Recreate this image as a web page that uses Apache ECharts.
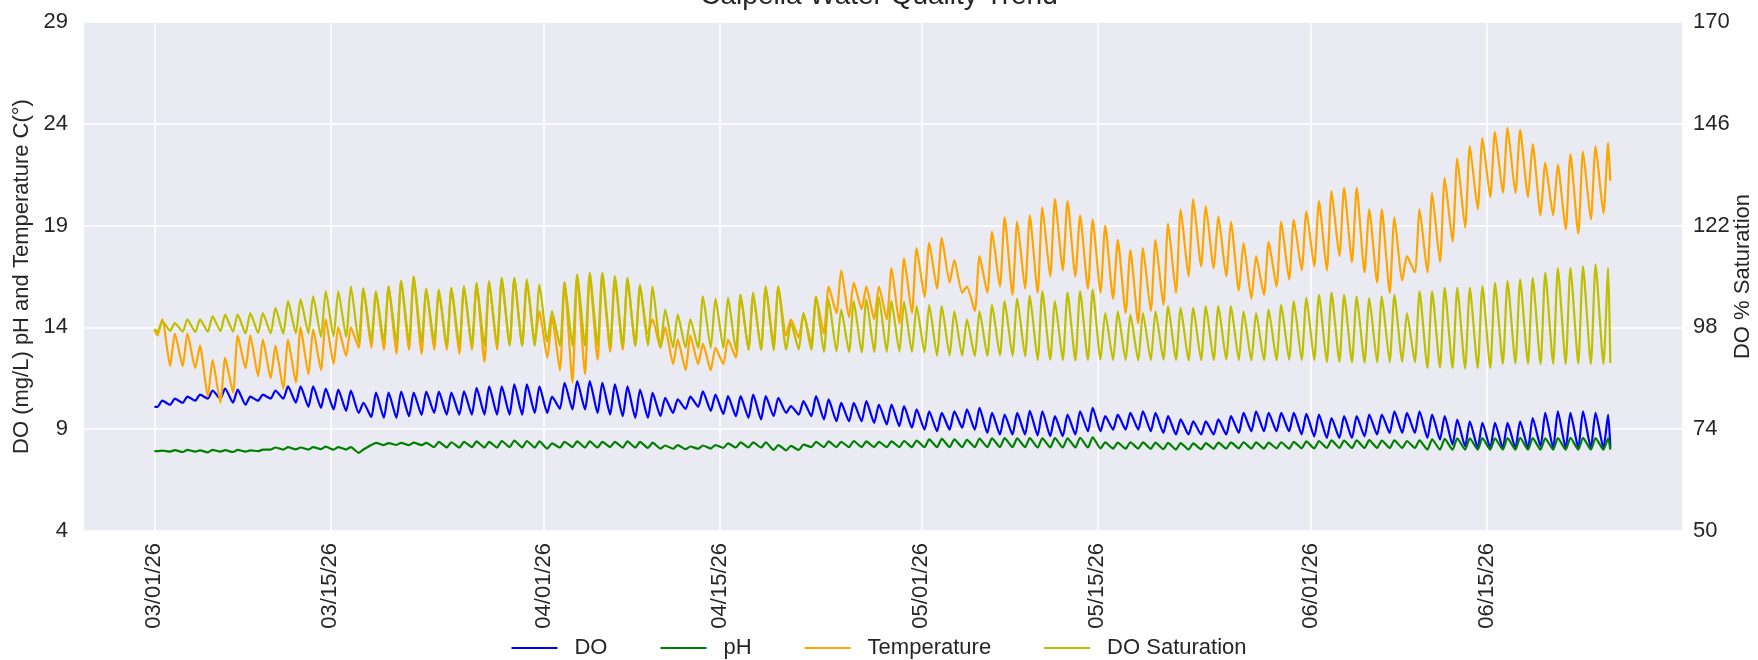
<!DOCTYPE html>
<html>
<head>
<meta charset="utf-8">
<script src="https://cdn.jsdelivr.net/npm/echarts@6/dist/echarts.min.js"></script>
<style>
html, body { margin: 0; padding: 0; background: #fff; }
#charts { width: 1758px; height: 660px; }
</style>
</head>
<body>
<div id="charts"></div>
<script>
var chartDom = document.getElementById('charts');
var myChart = echarts.init(chartDom);
var option;

// one reading pair per day starting 03/01/26: daily low (early morning) and daily high (afternoon)
var startDay = Date.UTC(2026, 2, 1);
var DAY = 86400000;
var tickDates = ['2026-03-01', '2026-03-15', '2026-04-01', '2026-04-15', '2026-05-01', '2026-05-15', '2026-06-01', '2026-06-15'];

var doMax = [10.4, 10.5, 10.6, 10.7, 10.9, 11.0, 10.95, 10.6, 10.7, 10.9,
  11.1, 11.1, 11.1, 11.0, 10.95, 10.9, 10.3, 10.8, 10.8, 10.85,
  10.8, 10.85, 10.85, 10.8, 10.86, 11.03, 11.1, 11.1, 11.2, 11.2,
  11.1, 10.6, 11.28, 11.36, 11.36, 11.28, 11.2, 11.1, 10.95, 10.78,
  10.54, 10.46, 10.6, 10.86, 10.7, 10.62, 10.62, 10.7, 10.62, 10.54,
  10.13, 10.38, 10.62, 10.46, 10.29, 10.29, 10.38, 10.21, 10.21, 10.13,
  9.97, 9.88, 9.8, 9.88, 9.97, 10.05, 9.8, 9.72, 9.8, 9.9,
  9.88, 9.64, 9.72, 9.88, 10.05, 9.64, 9.72, 9.8, 9.88, 9.8,
  9.64, 9.48, 9.39, 9.39, 9.48, 9.64, 9.8, 9.88, 9.8, 9.8,
  9.8, 9.76, 9.72, 9.55, 9.64, 9.64, 9.72, 9.72, 9.88, 9.8,
  9.88, 9.72, 9.64, 9.47, 9.39, 9.31, 9.31, 9.31, 9.39, 9.55,
  9.8, 9.88, 9.8, 9.88, 9.8, 9.72];
var doMin = [10.1, 10.2, 10.3, 10.4, 10.5, 10.5, 10.3, 10.2, 10.4, 10.5,
  10.5, 10.3, 10.1, 10.05, 9.97, 9.9, 9.8, 9.6, 9.56, 9.56,
  9.64, 9.7, 9.8, 9.72, 9.72, 9.72, 9.72, 9.72, 9.72, 9.72,
  9.8, 9.8, 10.0, 9.97, 9.97, 9.8, 9.72, 9.64, 9.56, 9.56,
  9.64, 9.8, 10.0, 10.1, 9.9, 9.75, 9.64, 9.56, 9.48, 9.64,
  9.8, 9.72, 9.64, 9.48, 9.39, 9.39, 9.39, 9.31, 9.23, 9.15,
  9.07, 8.98, 8.9, 8.98, 9.07, 8.98, 8.82, 8.74, 8.74, 8.74,
  8.7, 8.66, 8.66, 8.74, 8.9, 8.9, 8.98, 8.98, 8.98, 8.9,
  8.82, 8.74, 8.74, 8.74, 8.74, 8.74, 8.82, 8.9, 8.9, 8.9,
  8.9, 8.75, 8.65, 8.57, 8.57, 8.57, 8.65, 8.74, 8.82, 8.82,
  8.82, 8.57, 8.49, 8.24, 8.16, 8.08, 8.08, 8.08, 8.08, 8.08,
  8.16, 8.08, 8.08, 8.08, 8.08, 8.08];

var phMax = [7.95, 7.97, 7.98, 7.96, 7.98, 7.97, 7.98, 7.96, 8.0, 8.1,
  8.12, 8.1, 8.12, 8.14, 8.12, 8.12, 8.0, 8.33, 8.32, 8.33,
  8.34, 8.33, 8.38, 8.36, 8.38, 8.4, 8.38, 8.42, 8.44, 8.42,
  8.4, 8.3, 8.38, 8.4, 8.4, 8.38, 8.38, 8.4, 8.38, 8.34,
  8.2, 8.22, 8.15, 8.2, 8.22, 8.3, 8.35, 8.35, 8.36, 8.22,
  8.18, 8.24, 8.38, 8.4, 8.38, 8.42, 8.4, 8.38, 8.4, 8.42,
  8.44, 8.5, 8.52, 8.5, 8.48, 8.54, 8.55, 8.56, 8.55, 8.56,
  8.55, 8.56, 8.55, 8.58, 8.6, 8.35, 8.34, 8.36, 8.35, 8.34,
  8.33, 8.32, 8.3, 8.32, 8.34, 8.35, 8.36, 8.35, 8.34, 8.36,
  8.38, 8.4, 8.42, 8.45, 8.44, 8.45, 8.46, 8.44, 8.45, 8.42,
  8.45, 8.5, 8.52, 8.55, 8.55, 8.56, 8.55, 8.56, 8.58, 8.56,
  8.55, 8.56, 8.58, 8.57, 8.56, 8.55];
var phMin = [7.92, 7.9, 7.88, 7.9, 7.86, 7.9, 7.88, 7.9, 7.92, 8.0,
  8.0, 8.01, 8.0, 8.02, 8.0, 8.0, 7.84, 8.22, 8.22, 8.23,
  8.22, 8.22, 8.12, 8.1, 8.1, 8.12, 8.1, 8.1, 8.12, 8.1,
  8.1, 8.05, 8.1, 8.12, 8.1, 8.1, 8.12, 8.1, 8.1, 8.08,
  8.05, 8.04, 8.02, 8.04, 8.05, 8.08, 8.1, 8.1, 8.1, 7.98,
  7.96, 7.98, 8.12, 8.12, 8.12, 8.12, 8.12, 8.12, 8.12, 8.12,
  8.12, 8.12, 8.12, 8.12, 8.12, 8.12, 8.12, 8.12, 8.12, 8.12,
  8.1, 8.1, 8.1, 8.1, 8.1, 8.06, 8.05, 8.04, 8.05, 8.04,
  8.02, 8.0, 8.0, 8.02, 8.04, 8.05, 8.06, 8.05, 8.05, 8.06,
  8.05, 8.06, 8.06, 8.08, 8.08, 8.08, 8.08, 8.08, 8.08, 8.08,
  8.08, 8.0, 8.0, 8.0, 8.0, 8.0, 8.0, 8.0, 8.0, 8.0,
  8.0, 8.0, 8.0, 8.0, 8.0, 8.0];

var tempMax = [14.4, 13.7, 13.7, 13.1, 12.4, 12.5, 13.6, 13.6, 13.4, 13.1,
  13.4, 14.0, 13.9, 14.4, 14.0, 14.0, 15.9, 15.7, 16.0, 16.3,
  16.5, 15.9, 15.8, 15.9, 16.0, 16.1, 16.2, 16.4, 16.4, 16.3,
  14.8, 14.5, 16.2, 16.5, 16.6, 16.6, 16.4, 16.3, 16.0, 14.4,
  14.0, 13.4, 13.6, 13.2, 13.0, 13.4, 15.6, 15.6, 16.0, 16.0,
  14.4, 14.7, 15.5, 16.0, 16.8, 16.2, 16.0, 16.0, 16.9, 17.4,
  17.9, 18.15, 18.4, 17.3, 16.0, 17.5, 18.7, 19.4, 19.2, 19.5,
  19.9, 20.3, 20.2, 19.5, 19.3, 19.0, 18.3, 17.8, 17.9, 18.3,
  19.1, 19.8, 20.3, 19.95, 19.46, 19.2, 18.15, 17.5, 18.2, 19.2,
  19.3, 19.7, 20.2, 20.7, 20.85, 20.85, 19.8, 19.8, 19.4, 17.5,
  19.8, 20.6, 21.35, 22.3, 22.9, 23.3, 23.6, 23.8, 23.7, 23.0,
  22.1, 22.0, 22.5, 22.65, 22.9, 23.06];
var tempMin = [13.6, 12.1, 12.1, 12.0, 10.6, 10.3, 10.8, 12.0, 11.6, 11.5,
  11.0, 11.3, 11.7, 11.9, 12.2, 12.6, 13.0, 13.0, 12.9, 12.7,
  12.9, 12.7, 12.9, 12.9, 12.7, 12.9, 12.3, 12.9, 13.1, 13.1,
  13.3, 12.5, 11.9, 11.3, 11.7, 12.4, 12.8, 12.9, 13.1, 13.7,
  13.0, 12.2, 11.9, 12.2, 11.9, 12.2, 12.5, 12.9, 12.9, 13.2,
  13.6, 13.5, 13.2, 13.7, 14.7, 14.5, 14.9, 14.4, 14.4, 14.2,
  14.7, 15.5, 15.9, 16.2, 15.7, 14.8, 15.7, 16.0, 15.6, 15.9,
  15.7, 16.5, 16.8, 16.5, 15.9, 15.7, 15.4, 14.7, 14.2, 14.8,
  15.1, 15.7, 16.5, 17.0, 16.9, 16.5, 15.8, 15.4, 15.6, 16.0,
  16.35, 16.8, 17.0, 16.8, 17.5, 17.2, 16.7, 16.2, 15.7, 16.3,
  16.7, 16.7, 17.2, 18.2, 18.9, 19.8, 20.4, 20.6, 20.6, 20.4,
  19.5, 19.5, 18.8, 18.6, 19.3, 19.6];

var satMax = [99.4, 99.0, 99.9, 99.9, 100.6, 101.0, 101.0, 101.4, 101.4, 102.6,
  104.2, 104.6, 105.3, 106.5, 106.5, 107.7, 107.2, 106.5, 107.7, 108.9,
  110.0, 106.9, 106.9, 107.3, 107.7, 108.5, 108.9, 109.7, 109.7, 109.3,
  108.1, 101.8, 108.7, 110.5, 110.9, 110.9, 110.1, 109.7, 108.1, 107.6,
  102.2, 101.0, 99.9, 105.3, 104.8, 105.0, 105.7, 106.2, 107.6, 107.6,
  99.0, 101.4, 105.2, 104.6, 102.2, 104.2, 104.6, 105.2, 104.2, 104.0,
  103.0, 103.3, 103.0, 101.8, 99.9, 101.8, 103.3, 104.2, 104.8, 105.5,
  106.5, 104.2, 106.2, 106.5, 106.9, 101.4, 101.8, 101.0, 101.4, 101.8,
  103.0, 102.6, 102.6, 103.0, 103.0, 103.0, 101.8, 101.4, 102.2, 103.3,
  104.2, 105.0, 105.7, 106.2, 105.7, 105.3, 104.9, 105.3, 105.7, 101.4,
  106.5, 106.5, 107.3, 107.3, 107.3, 107.7, 108.5, 108.9, 109.3, 109.7,
  110.9, 112.0, 112.0, 112.4, 112.8, 112.0];
var satMin = [97.0, 97.2, 97.0, 96.9, 97.0, 97.1, 97.0, 96.6, 96.7, 96.6,
  96.5, 96.6, 96.6, 95.8, 95.9, 95.8, 94.6, 94.7, 94.6, 94.5,
  94.6, 94.6, 94.7, 93.7, 93.8, 93.7, 93.6, 93.7, 93.8, 93.7,
  93.7, 94.6, 93.7, 93.6, 93.7, 93.8, 93.7, 93.6, 93.7, 93.7,
  93.2, 93.3, 93.2, 93.1, 93.2, 93.2, 92.7, 92.8, 92.7, 92.6,
  92.7, 92.8, 92.7, 92.2, 92.3, 92.2, 92.1, 92.2, 92.2, 92.3,
  92.2, 92.1, 91.3, 91.4, 91.3, 91.2, 91.3, 91.4, 91.3, 91.2,
  90.3, 90.4, 90.3, 90.2, 90.3, 90.4, 90.3, 90.3, 90.2, 90.3,
  90.4, 90.3, 90.2, 90.3, 90.3, 90.4, 90.3, 90.2, 90.3, 90.3,
  90.4, 90.3, 90.3, 89.8, 89.9, 89.8, 89.7, 89.8, 89.8, 89.9,
  89.8, 88.4, 88.5, 88.4, 88.3, 88.4, 88.4, 89.4, 89.5, 89.4,
  89.3, 89.4, 89.4, 89.5, 89.4, 89.4];

// DO, pH, Temperature, DO Saturation
var firstReading = [10.1, 7.92, 13.9, 97.6];
var lastReading = [8.1, 8.0, 21.2, 89.6];

function buildLine(mins, maxs, first, last) {
  var pts = [[startDay, first]];
  for (var i = 0; i < mins.length; i++) {
    pts.push([startDay + i * DAY + 0.25 * DAY, mins[i]]);
    pts.push([startDay + i * DAY + 0.625 * DAY, maxs[i]]);
  }
  pts.push([startDay + (mins.length - 1) * DAY + 0.8 * DAY, last]);
  return pts;
}

function pad(n) { return n < 10 ? '0' + n : '' + n; }
function fmtDate(v) {
  var d = new Date(v);
  return pad(d.getUTCMonth() + 1) + '/' + pad(d.getUTCDate()) + '/' + String(d.getUTCFullYear()).slice(2);
}

var tickValues = tickDates.map(function (s) { return Date.parse(s); });
var textColor = '#262626';
var font = "'Liberation Sans', Arial, sans-serif";

option = {
  backgroundColor: '#ffffff',
  animation: false,
  textStyle: { fontFamily: font },
  title: {
    text: 'Calpella Water Quality Trend',
    left: 'center',
    top: -23,
    textStyle: { fontSize: 28, fontWeight: 'normal', color: textColor, fontFamily: font }
  },
  legend: {
    top: 632,
    left: 'center',
    icon: 'rect',
    itemWidth: 46,
    itemHeight: 2,
    itemGap: 53,
    textStyle: { fontSize: 22, color: textColor, padding: [0, 0, 0, 12], fontFamily: font },
    data: ['DO', 'pH', 'Temperature', 'DO Saturation']
  },
  grid: {
    left: 84, right: 76, top: 22, bottom: 129,
    outerBoundsMode: 'none',
    containLabel: false,
    show: true, backgroundColor: '#EAEAF2', borderWidth: 0
  },
  xAxis: {
    type: 'value',
    min: startDay - 5.6 * DAY,
    max: startDay + 121.5 * DAY,
    axisLine: { show: false },
    axisTick: { show: false, customValues: tickValues },
    axisLabel: {
      customValues: tickValues,
      rotate: 90,
      margin: 12,
      fontSize: 22,
      color: textColor,
      fontFamily: font,
      formatter: fmtDate
    },
    splitLine: { show: true, lineStyle: { color: '#ffffff', width: 1.5 } }
  },
  yAxis: [
    {
      type: 'value',
      min: 4, max: 29, interval: 5,
      name: 'DO (mg/L) pH and Temperature C(°)',
      nameLocation: 'middle',
      nameGap: 51,
      nameTextStyle: { fontSize: 22, color: textColor, fontFamily: font },
      axisLine: { show: false },
      axisTick: { show: false },
      axisLabel: { fontSize: 22, color: textColor, margin: 16, fontFamily: font },
      splitLine: { show: true, lineStyle: { color: '#ffffff', width: 1.5 } }
    },
    {
      type: 'value',
      min: 50, max: 170, interval: 24,
      position: 'right',
      name: 'DO % Saturation',
      nameLocation: 'middle',
      nameGap: 50,
      nameRotate: 90,
      nameMoveOverlap: false,
      nameTextStyle: { fontSize: 22, color: textColor, fontFamily: font },
      axisLine: { show: false },
      axisTick: { show: false },
      axisLabel: { fontSize: 22, color: textColor, margin: 11, fontFamily: font },
      splitLine: { show: false }
    }
  ],
  series: [
    {
      name: 'DO', type: 'line', yAxisIndex: 0, symbol: 'none', smooth: 0.2,
      lineStyle: { color: '#0000ff', width: 2.2 }, itemStyle: { color: '#0000ff' },
      data: buildLine(doMin, doMax, firstReading[0], lastReading[0])
    },
    {
      name: 'pH', type: 'line', yAxisIndex: 0, symbol: 'none', smooth: 0.2,
      lineStyle: { color: '#008000', width: 2.2 }, itemStyle: { color: '#008000' },
      data: buildLine(phMin, phMax, firstReading[1], lastReading[1])
    },
    {
      name: 'Temperature', type: 'line', yAxisIndex: 0, symbol: 'none', smooth: 0.2,
      lineStyle: { color: '#ffa500', width: 2.2 }, itemStyle: { color: '#ffa500' },
      data: buildLine(tempMin, tempMax, firstReading[2], lastReading[2])
    },
    {
      name: 'DO Saturation', type: 'line', yAxisIndex: 1, symbol: 'none', smooth: 0.2,
      lineStyle: { color: '#bfbf00', width: 2.2 }, itemStyle: { color: '#bfbf00' },
      data: buildLine(satMin, satMax, firstReading[3], lastReading[3])
    }
  ]
};

option && myChart.setOption(option);
</script>
</body>
</html>
